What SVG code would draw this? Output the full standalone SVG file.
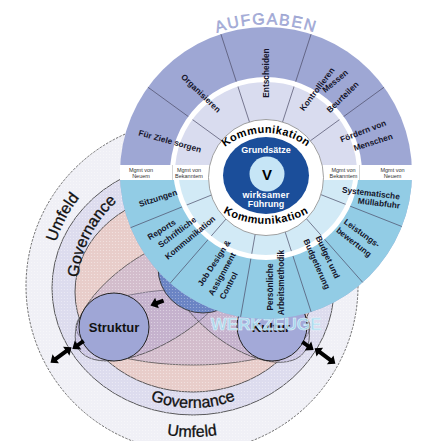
<svg xmlns="http://www.w3.org/2000/svg" width="421" height="441" viewBox="0 0 421 441">
<defs>
<style>
text{font-family:"Liberation Sans",Arial,sans-serif}
.lbl{font-weight:bold;font-size:8.3px;fill:#14142a;text-anchor:middle}
.mg{font-size:5.5px;fill:#333;text-anchor:middle}
.ring{font-size:16px;fill:#111;stroke:#111;stroke-width:0.3;text-anchor:middle}
.komm{font-size:11px;font-weight:bold;fill:#000;text-anchor:middle}
.ctr{font-size:9px;font-weight:bold;fill:#fff;text-anchor:middle}
.big{font-size:13px;font-weight:bold;fill:#111;text-anchor:middle}
.wl{stroke:#4a4a66;stroke-width:0.7;fill:none}
.lens{fill:#a99cd0;fill-opacity:0.32;stroke:#444;stroke-width:0.7}
.arr{fill:#000}
</style>
<pattern id="dots" width="3" height="3" patternUnits="userSpaceOnUse"><circle cx="1.5" cy="1.5" r="0.6" fill="#fff"/></pattern>
<path id="arr2" d="M-13,0 L-6.5,-5.5 L-6.5,-2 L6.5,-2 L6.5,-5.5 L13,0 L6.5,5.5 L6.5,2 L-6.5,2 L-6.5,5.5 Z"/>
<path id="arr1" d="M7,0 L0,-5.5 L0,-2 L-7,-2 L-7,2 L0,2 L0,5.5 Z"/>
<path id="p-umf-l" d="M59.4,339.6 A143,143 0 0 1 162.3,146.1"/>
<path id="p-umf-b" d="M95,401.7 A151,151 0 0 0 289,401.7"/>
<path id="p-gov-l" d="M87.1,332.9 A115,115 0 0 1 167.1,175.9"/>
<path id="p-gov-b" d="M101.1,365.1 A120,120 0 0 0 284.9,365.1"/>
<path id="p-auf" d="M170.5,59.2 A148.5,148.5 0 0 1 361.5,59.2"/>
<path id="p-kom-t" d="M203,177.1 A67,67 0 0 1 329,177.1"/>
<path id="p-kom-b" d="M189.8,180 A88,88 0 0 0 342.2,180"/>
</defs>
<rect width="421" height="441" fill="#fff"/>

<g id="umfeld">
<circle cx="192" cy="286" r="166" fill="#f0f0f6" stroke="#333" stroke-width="0.7" stroke-dasharray="2.5 1.3"/>
</g>
<g id="governance">
<ellipse cx="193" cy="288" rx="141" ry="127" fill="#dddcee" stroke="#333" stroke-width="0.8"/>
</g>
<g id="kern">
<ellipse cx="193" cy="292" rx="118" ry="100" fill="#e8cdca" stroke="#333" stroke-width="0.8"/>
<ellipse class="lens" cx="193" cy="327" rx="117" ry="38"/>
<ellipse class="lens" cx="158" cy="297" rx="95" ry="44" transform="rotate(-33.5 158 297)"/>
<ellipse class="lens" cx="237" cy="297" rx="87" ry="44" transform="rotate(40 237 297)"/>
</g>
<circle cx="192" cy="286" r="166" fill="url(#dots)" opacity="0.45"/>

<g id="umfeld-text">
<text class="ring"><textPath href="#p-umf-l" startOffset="50%">Umfeld</textPath></text>
<text class="ring"><textPath href="#p-umf-b" startOffset="50%">Umfeld</textPath></text>
</g>
<g id="governance-text">
<text class="ring"><textPath href="#p-gov-l" startOffset="50%">Governance</textPath></text>
<text class="ring"><textPath href="#p-gov-b" startOffset="50%">Governance</textPath></text>
</g>

<g id="strategie">
<circle cx="203" cy="268" r="45" fill="#6b84c4" stroke="#333" stroke-width="0.9"/>
<circle cx="203" cy="268" r="45" fill="url(#dots)" opacity="0.35"/>
</g>
<g id="struktur">
<ellipse cx="114" cy="327" rx="35" ry="34" fill="#9fa6d6" stroke="#222" stroke-width="1"/>
<text class="big" x="114" y="332">Struktur</text>
</g>
<g id="kultur">
<circle cx="272" cy="326" r="35" fill="#a3a9d8" stroke="#222" stroke-width="1"/>
<text class="big" x="271" y="332">Kultur</text>
</g>
<text x="266" y="330" font-size="17" font-weight="bold" fill="#a8dcf0" fill-opacity="0.9" stroke="#e6f6fc" stroke-width="0.5" text-anchor="middle">WERKZEUGE</text>

<g id="connectors">
<use href="#arr2" class="arr" transform="translate(61,355) rotate(-36)"/>
<use href="#arr1" class="arr" transform="translate(78,345) rotate(144)"/>
<use href="#arr1" class="arr" transform="translate(157,303) rotate(160)"/>
<use href="#arr1" class="arr" transform="translate(308,346) rotate(36)"/>
<use href="#arr2" class="arr" transform="translate(325,356) rotate(37)"/>
</g>

<g id="wheel">
<circle cx="266" cy="173" r="146" fill="#9ea7d4"/>
<path d="M120,173 A146,146 0 0 0 412,173 Z" fill="#92cce5"/>
<path d="M172.5,173 A93.5,93.5 0 0 1 359.5,173 Z" fill="#d9dcef"/>
<path d="M175.5,167 A90.5,90.5 0 0 0 356.5,167 Z" fill="#d2eaf6"/>
<path class="wl" d="M266,173 L147.9,87.2 M266,173 L220.9,34.1 M266,173 L311.1,34.1 M266,173 L384.1,87.2 M266,173 L130.6,227.7 M266,173 L170.2,283.2 M266,173 L240.6,316.8 M266,173 L311.1,311.9 M266,173 L362.7,282.4 M266,173 L401.8,226.5"/>
<path d="M172.5,173 A93.5,93.5 0 0 1 359.5,173" fill="none" stroke="#fff" stroke-width="5"/>
<path d="M175.5,167 A90.5,90.5 0 0 0 356.5,167" fill="none" stroke="#fff" stroke-width="5"/>
</g>

<g id="band">
<rect x="120" y="165" width="292" height="15" fill="#fff"/>
<path d="M172.5,165 V180 M359.5,165 V180" stroke="#aaa" stroke-width="0.5"/>
<text class="mg" x="141" y="172">Mgmt von</text><text class="mg" x="141" y="177.5">Neuem</text>
<text class="mg" x="189" y="172">Mgmt von</text><text class="mg" x="189" y="177.5">Bekanntem</text>
<text class="mg" x="343.5" y="172">Mgmt von</text><text class="mg" x="343.5" y="177.5">Bekanntem</text>
<text class="mg" x="392.5" y="172">Mgmt von</text><text class="mg" x="392.5" y="177.5">Neuem</text>
</g>

<g id="aufgaben-top">
<text class="lbl" transform="translate(170,141) rotate(15.5)" y="3">Für Ziele sorgen</text>
<text class="lbl" transform="translate(201,93) rotate(44)" y="3">Organisieren</text>
<text class="lbl" transform="translate(266,73) rotate(-90)" y="3">Entscheiden</text>
<text class="lbl" transform="translate(317,89) rotate(-53)" y="3">Kontrollieren</text>
<text class="lbl" transform="translate(335,81) rotate(-40)" y="3">Messen</text>
<text class="lbl" transform="translate(342.5,97) rotate(-44)" y="3">Beurteilen</text>
<text class="lbl" transform="translate(363,131) rotate(-21)" y="3">Fördern von</text>
<text class="lbl" transform="translate(373,142) rotate(-18)" y="3">Menschen</text>
</g>

<g id="werkzeuge-bottom">
<text class="lbl" transform="translate(158,198) rotate(-18)" y="3">Sitzungen</text>
<text class="lbl" transform="translate(161.5,229.5) rotate(-32)" y="3">Reports</text>
<text class="lbl" transform="translate(177,232) rotate(-37)" y="3">Schriftliche</text>
<text class="lbl" transform="translate(190,237.5) rotate(-40)" y="3">Kommunikation</text>
<text class="lbl" transform="translate(214,263) rotate(-57)" y="3">Job Design &amp;</text>
<text class="lbl" transform="translate(222,274) rotate(-61)" y="3">Assignment</text>
<text class="lbl" transform="translate(228.5,285.5) rotate(-62)" y="3">Control</text>
<text class="lbl" transform="translate(270,287) rotate(-90)" y="3">Persönliche</text>
<text class="lbl" transform="translate(281,282.5) rotate(-90)" y="3">Arbeitsmethodik</text>
<text class="lbl" transform="translate(328,257) rotate(65)" y="3">Budget und</text>
<text class="lbl" transform="translate(317,264) rotate(66)" y="3">Budgetierung</text>
<text class="lbl" transform="translate(362,233) rotate(36)" y="3">Leistungs-</text>
<text class="lbl" transform="translate(354,242) rotate(38)" y="3">bewertung</text>
<text class="lbl" transform="translate(371,193) rotate(7)" y="3">Systematische</text>
<text class="lbl" transform="translate(379,203) rotate(7)" y="3">Müllabfuhr</text>
</g>

<g id="kern-fuehrung">
<ellipse cx="266" cy="177.5" rx="57.5" ry="58" fill="#fff" stroke="#8a8a8a" stroke-width="0.8"/>
<ellipse cx="266" cy="175.5" rx="43" ry="38.5" fill="#1b4e9a"/>
<circle cx="267" cy="174" r="17.5" fill="#c6e5f6"/>
<text x="267" y="179.5" font-size="15" font-weight="bold" fill="#000" text-anchor="middle">V</text>
<text class="ctr" x="266" y="152.5">Grundsätze</text>
<text class="ctr" x="266" y="198" letter-spacing="0.3">wirksamer</text>
<text class="ctr" x="266" y="206.5">Führung</text>
<text class="komm" letter-spacing="0.4"><textPath href="#p-kom-t" startOffset="50%">Kommunikation</textPath></text>
<text class="komm" letter-spacing="0.5"><textPath href="#p-kom-b" startOffset="50%">Kommunikation</textPath></text>
</g>

<g id="aufgaben-title">
<text font-size="16" fill="#aab2de" stroke="#8c94c8" stroke-width="0.4" letter-spacing="1.5" text-anchor="middle"><textPath href="#p-auf" startOffset="50%">AUFGABEN</textPath></text>
</g>
</svg>
